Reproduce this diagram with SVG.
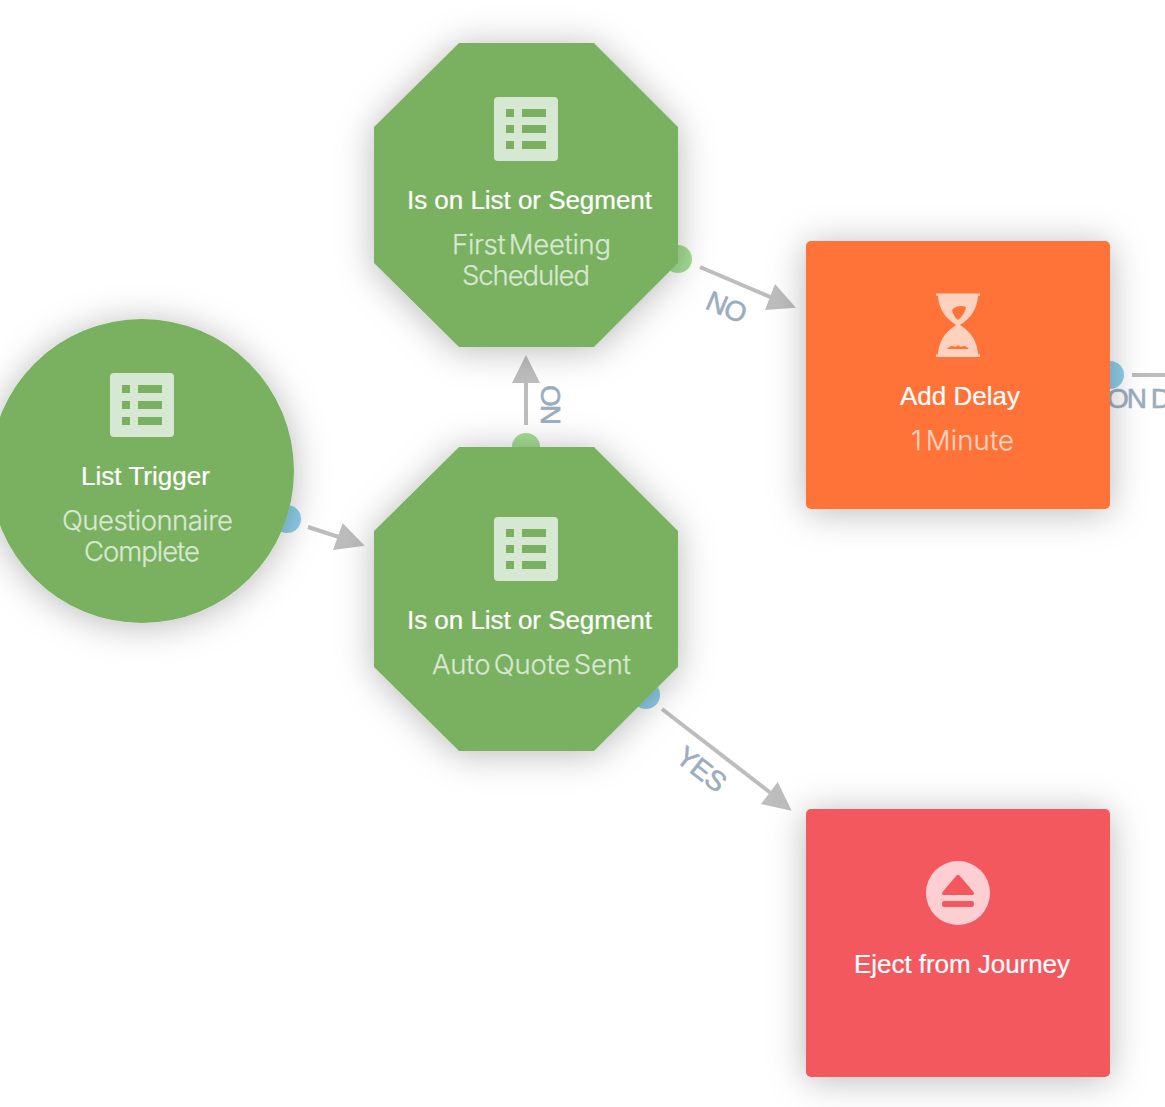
<svg xmlns="http://www.w3.org/2000/svg" width="1165" height="1107" viewBox="0 0 1165 1107">
<style>
text{font-family:"Liberation Sans",Arial,sans-serif}
.t{font-size:26px;fill:#fff;stroke:#fff;stroke-width:.2}
.s{font-size:27.500px;font-family:Inter,"Liberation Sans",sans-serif;font-weight:300;word-spacing:-4px;stroke-width:.25}
.g{fill:#d7e8d2;stroke:#d7e8d2}
.o{fill:#ffd2bf}
.so{stroke:#ffd2bf}
.l{font-size:28px;fill:#9aadbf;stroke:#9aadbf;stroke-width:.6}
.n{filter:url(#sh)}
.c{stroke:#bdbdbd;stroke-width:4;fill:none}
.h{fill:#bdbdbd}
.ic{fill:#d7e8d2}
.b{fill:#7ab160}
</style>
<defs>
<filter id="sh" x="-30%" y="-30%" width="160%" height="160%"><feDropShadow dx="0" dy="3" stdDeviation="18" flood-color="#000" flood-opacity=".28"/></filter>
<g id="list"><rect width="64" height="64" rx="4" class="ic"/><path class="b" d="M12 12h8v8h-8zM28 12h24v8h-24zM12 28h8v8h-8zM28 28h24v8h-24zM12 44h8v8h-8zM28 44h24v8h-24z"/></g>
<polygon id="oct" points="85,0 220,0 304,84 304,220 220,304 85,304 0,220 0,84" fill="#7ab160"/>
</defs>
<g id="connectors">
<path class="c" d="M308 527L342 538"/><polygon class="h" points="364.7,545.7 342.7,523.3 333,550"/>
<path class="c" d="M526 425V380"/><polygon class="h" points="526,355 512,383 540,383"/>
<path class="c" d="M700 267L775 299"/><polygon class="h" points="796,307.7 775,284 765,310"/>
<path class="c" d="M662 709L772 794"/><polygon class="h" points="791.7,810.7 777.7,782 761,804"/>
<path class="c" d="M1132 375H1165"/>
<text class="l" transform="translate(560 425) rotate(-90)" textLength="40">NO</text>
<text class="l" transform="translate(704 308) rotate(23)" textLength="41">NO</text>
<text class="l" transform="translate(674 760) rotate(38)" textLength="55">YES</text>
<text class="l" x="1107" y="408" textLength="64">ON D</text>
<circle cx="287" cy="519" r="14" fill="#8fcdea"/>
<circle cx="526" cy="447" r="14" fill="#a3dc94"/>
<circle cx="678" cy="259" r="14" fill="#a3dc94"/>
<circle cx="646" cy="695" r="14" fill="#8fcdea"/>
<circle cx="1110" cy="375" r="14" fill="#8fcdea"/>
</g>
<g id="trigger"><circle class="n" cx="142" cy="471" r="152" fill="#7ab160"/><use href="#list" x="110" y="373"/>
<text class="t" x="81" y="485" textLength="129">List Trigger</text>
<text class="s g" x="62" y="530" textLength="171">Questionnaire</text>
<text class="s g" x="84" y="561" textLength="116">Complete</text></g>
<g id="segment-first"><use class="n" href="#oct" x="374" y="43"/><use href="#list" x="494" y="97"/>
<text class="t" x="407" y="209" textLength="245">Is on List or Segment</text>
<text class="s g" x="452" y="254" textLength="159">First Meeting</text>
<text class="s g" x="462" y="285" textLength="128">Scheduled</text></g>
<g id="segment-auto"><use class="n" href="#oct" x="374" y="447"/><use href="#list" x="494" y="517"/>
<text class="t" x="407" y="629" textLength="245">Is on List or Segment</text>
<text class="s g" x="432" y="674" textLength="199">Auto Quote Sent</text></g>
<g id="delay"><rect class="n" x="806" y="241" width="304" height="268" rx="5" fill="#ff7338"/>
<path class="o" d="M936 293.500H980V295.500L978 296C977 309 971 318 960 325C971 332 977 341 978 354L980 354.500V357H936V354.500L938 354C939 341 945 332 956 325C945 318 939 309 938 296L936 295.500Z"/>
<path fill="#ff7338" d="M952 310C955 306 961 305 966 307C965 313 961 318 958 320C955 318 953 314 952 310ZM947 349C951 345 953 346 955 347C957 345 959 345 961 347C964 345 966 346 969 349Z"/>
<text class="t" x="900" y="405" textLength="120">Add Delay</text>
<text class="s o so" x="911" y="450" textLength="103">1 Minute</text></g>
<g id="eject"><rect class="n" x="806" y="809" width="304" height="268" rx="5" fill="#f4585e"/>
<circle cx="958" cy="893" r="32" fill="#fdcfd2"/>
<path fill="#f4585e" d="M956.500 875.500Q958 874 959.500 875.500L973.500 892Q975 895 972 895H944Q941 895 942.500 892ZM944 901H972Q974 901 974 904Q974 907 972 907H944Q942 907 942 904Q942 901 944 901Z"/>
<text class="t" x="854" y="973" textLength="216">Eject from Journey</text></g>
</svg>
